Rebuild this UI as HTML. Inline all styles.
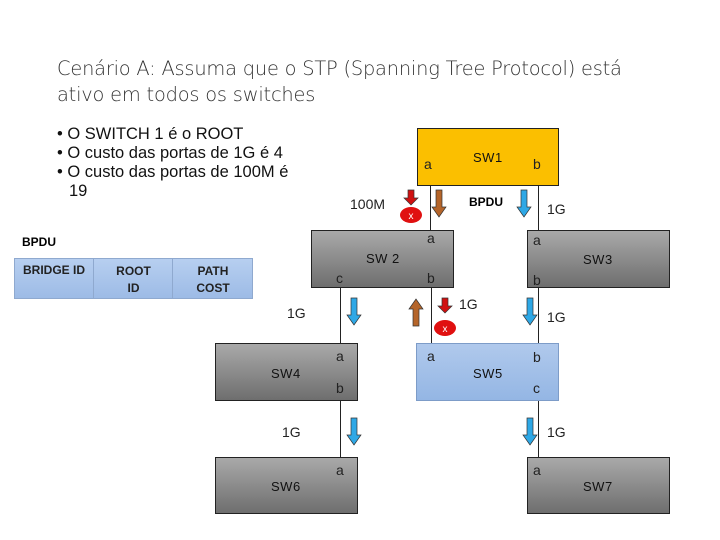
<!DOCTYPE html>
<html><head><style>
body{margin:0;width:720px;height:540px;background:#fff;position:relative;overflow:hidden;font-family:"Liberation Sans",sans-serif}
.a{position:absolute}
.box{position:absolute;border:1.5px solid #222;box-sizing:border-box;background:linear-gradient(#a9a9a9,#6e6e6e)}
.t{position:absolute;font-size:14px;color:#222;white-space:nowrap}
.lbl{position:absolute;font-size:13px;color:#111;letter-spacing:0.5px}
.ln{position:absolute;width:1px;background:#222}
</style></head><body>
<div class="a" style="left:57px;top:56px;font-size:19.4px;color:#333;line-height:26px;font-family:'DejaVu Sans',sans-serif;font-weight:200;letter-spacing:-0.2px">Cenário A: Assuma que o STP (Spanning Tree Protocol) está<br>ativo em todos os switches</div>
<div class="a" style="left:57px;top:125px;font-size:16.5px;color:#111;line-height:19px">
<div>• O SWITCH 1 é o ROOT</div><div>• O custo das portas de 1G é 4</div><div>• O custo das portas de 100M é</div><div style="padding-left:12px">19</div></div>

<div class="a" style="left:22px;top:235px;font-size:12px;font-weight:bold">BPDU</div>
<div class="a" style="left:14px;top:258px;width:239px;height:41px;background:linear-gradient(#b7cff0,#9dbbe6);border:1px solid #8fa9cf;box-sizing:border-box;font-size:12px;font-weight:bold;color:#222">
<div class="a" style="left:0;width:78px;top:4px;text-align:center">BRIDGE ID</div>
<div class="a" style="left:78px;width:79px;top:4px;text-align:center;line-height:17px;border-left:1px solid #8fa9cf;height:36px;margin-top:-4px;padding-top:4px">ROOT<br>ID</div>
<div class="a" style="left:157px;width:80px;top:4px;text-align:center;line-height:17px;border-left:1px solid #8fa9cf;height:36px;margin-top:-4px;padding-top:4px">PATH<br>COST</div>
</div>

<div class="ln" style="left:430px;top:185px;height:45px"></div>
<div class="ln" style="left:538px;top:185px;height:45px"></div>
<div class="ln" style="left:340px;top:287px;height:56px"></div>
<div class="ln" style="left:431px;top:287px;height:56px"></div>
<div class="ln" style="left:538px;top:287px;height:56px"></div>
<div class="ln" style="left:340px;top:400px;height:57px"></div>
<div class="ln" style="left:538px;top:400px;height:57px"></div>

<div class="box" style="left:417px;top:128px;width:142px;height:58px;background:#fbbf00"></div>
<div class="box" style="left:311px;top:230px;width:143px;height:58px"></div>
<div class="box" style="left:527px;top:230px;width:143px;height:58px"></div>
<div class="box" style="left:215px;top:343px;width:143px;height:58px"></div>
<div class="box" style="left:416px;top:343px;width:143px;height:58px;background:linear-gradient(#b0c9ec,#94b6e4);border-color:#7d9cc8"></div>
<div class="box" style="left:215px;top:457px;width:143px;height:57px"></div>
<div class="box" style="left:527px;top:457px;width:143px;height:57px"></div>

<div class="lbl" style="left:473px;top:150px">SW1</div>
<div class="lbl" style="left:366px;top:251px">SW 2</div>
<div class="lbl" style="left:583px;top:252px">SW3</div>
<div class="lbl" style="left:271px;top:366px">SW4</div>
<div class="lbl" style="left:473px;top:366px">SW5</div>
<div class="lbl" style="left:271px;top:479px">SW6</div>
<div class="lbl" style="left:583px;top:479px">SW7</div>

<div class="t" style="left:424px;top:156px">a</div>
<div class="t" style="left:533px;top:156px">b</div>
<div class="t" style="left:427px;top:230px">a</div>
<div class="t" style="left:336px;top:270px">c</div>
<div class="t" style="left:427px;top:270px">b</div>
<div class="t" style="left:533px;top:232px">a</div>
<div class="t" style="left:533px;top:272px">b</div>
<div class="t" style="left:336px;top:348px">a</div>
<div class="t" style="left:336px;top:380px">b</div>
<div class="t" style="left:427px;top:348px">a</div>
<div class="t" style="left:533px;top:349px">b</div>
<div class="t" style="left:533px;top:380px">c</div>
<div class="t" style="left:336px;top:462px">a</div>
<div class="t" style="left:533px;top:462px">a</div>

<div class="t" style="left:350px;top:196px">100M</div>
<div class="a" style="left:469px;top:195px;font-size:12px;font-weight:bold">BPDU</div>
<div class="t" style="left:547px;top:201px">1G</div>
<div class="t" style="left:287px;top:305px">1G</div>
<div class="t" style="left:459px;top:296px">1G</div>
<div class="t" style="left:547px;top:309px">1G</div>
<div class="t" style="left:282px;top:424px">1G</div>
<div class="t" style="left:547px;top:424px">1G</div>

<svg class="a" style="left:0;top:0" width="720" height="540">
<defs>
<g id="dn"><path d="M-3,0h6v17h4l-7,10l-7,-10h4z"/></g>
<g id="dns"><path d="M-3,0h6v8h4l-7,7l-7,-7h4z"/></g>
</defs>
<g stroke="#333" stroke-width="0.7">
<use href="#dn" x="439" y="190" fill="#b5652a"/>
<use href="#dn" x="524" y="190" fill="#2ea8e6"/>
<use href="#dns" x="411" y="190" fill="#d01010"/>
<use href="#dn" x="354" y="298" fill="#2ea8e6"/>
<use href="#dn" x="416" y="298" fill="#b5652a" transform="rotate(180 416 312)"/>
<use href="#dns" x="445" y="298" fill="#d01010"/>
<use href="#dn" x="530" y="298" fill="#2ea8e6"/>
<use href="#dn" x="354" y="418" fill="#2ea8e6"/>
<use href="#dn" x="530" y="418" fill="#2ea8e6"/>
</g>
<ellipse cx="411" cy="215" rx="11" ry="8" fill="#e01010"/>
<text x="411" y="219" font-size="10" fill="#fff" text-anchor="middle" font-family="Liberation Sans">x</text>
<ellipse cx="445" cy="328" rx="11" ry="8" fill="#e01010"/>
<text x="445" y="332" font-size="10" fill="#fff" text-anchor="middle" font-family="Liberation Sans">x</text>
</svg>
</body></html>
